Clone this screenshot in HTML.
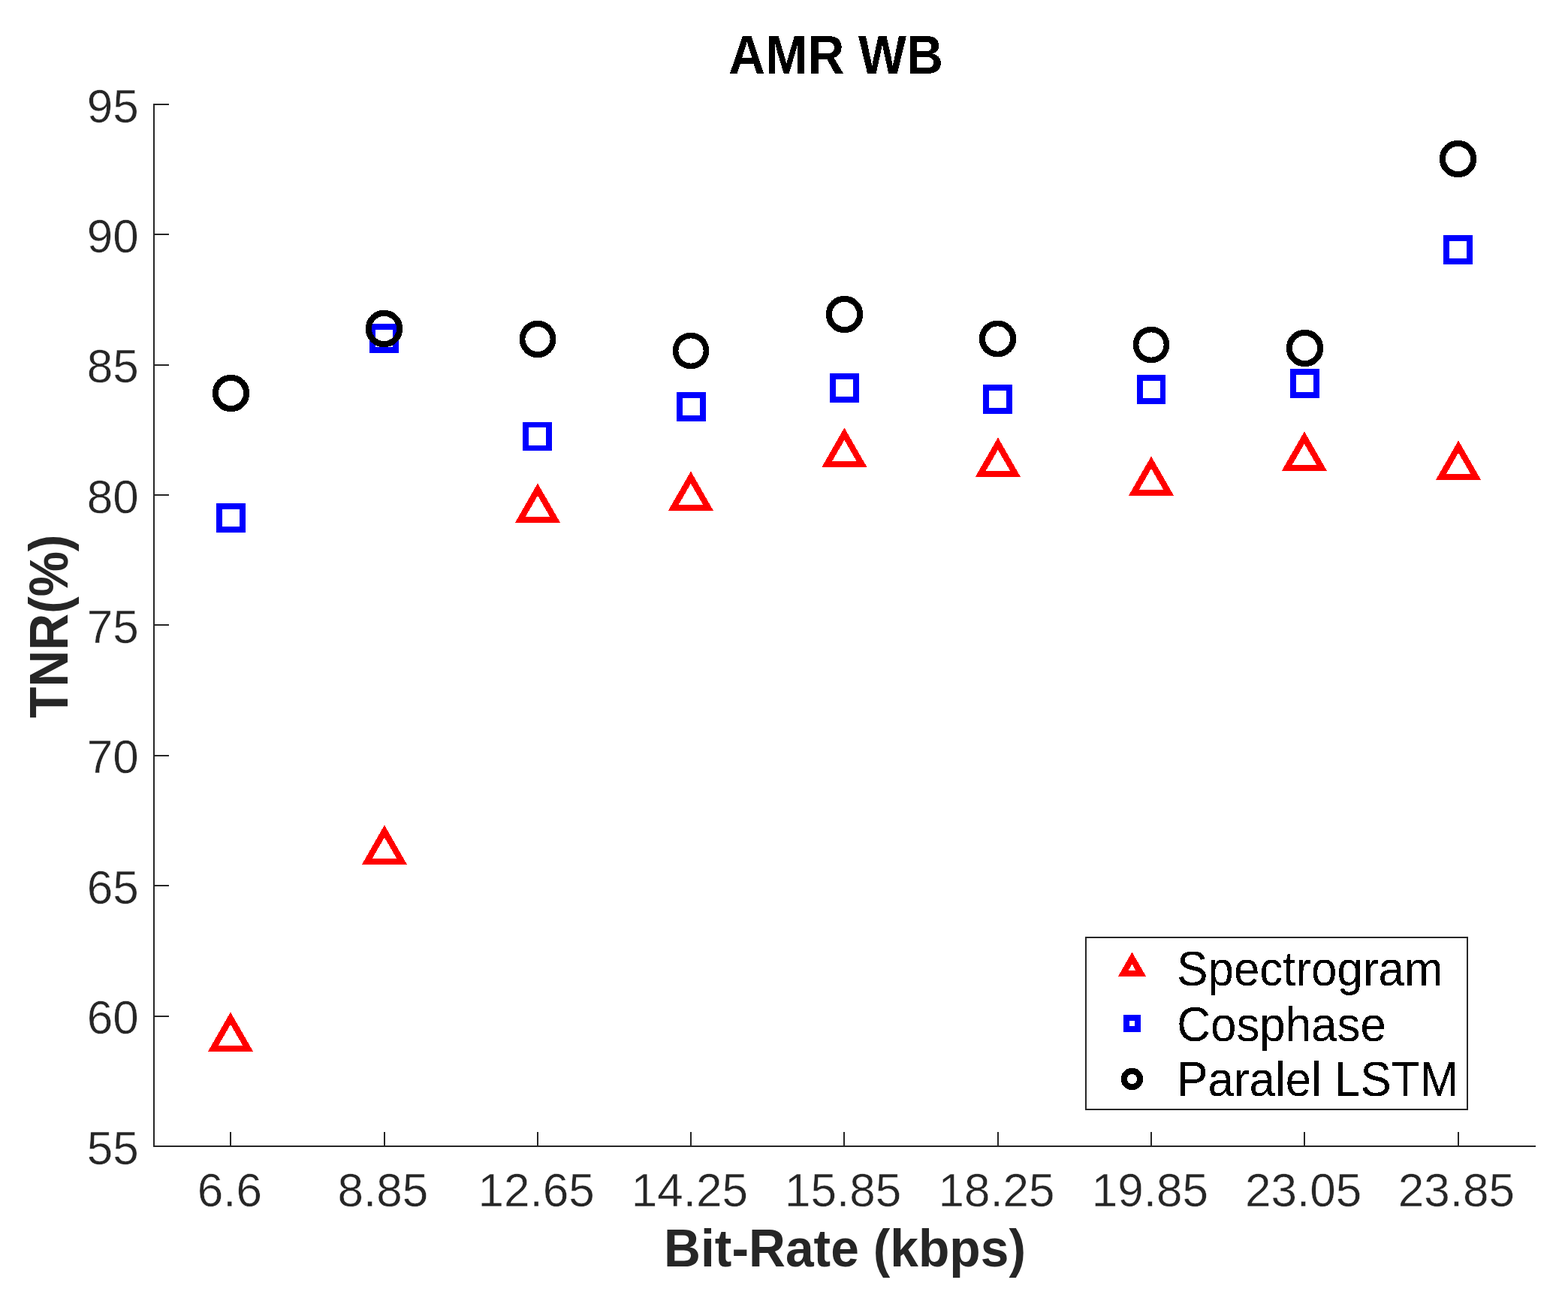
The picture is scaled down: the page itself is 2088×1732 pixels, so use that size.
<!DOCTYPE html>
<html lang="en">
<head>
<meta charset="utf-8">
<title>AMR WB</title>
<style>
html,body{margin:0;padding:0;background:#fff;}
body{width:2088px;height:1732px;}
svg{display:block;}
text{font-family:"Liberation Sans",sans-serif;}
.t{font-size:62.5px;fill:#262626;stroke:#fff;stroke-width:0.45px;}
.l{font-size:62.5px;fill:#000;}
.b{font-size:68.75px;font-weight:bold;fill:#262626;}
.ax{stroke:#262626;stroke-width:2;fill:none;shape-rendering:crispEdges;}
.f{fill-rule:evenodd;stroke:none;shape-rendering:crispEdges;}
</style>
</head>
<body>
<svg width="2088" height="1732" viewBox="0 0 2088 1732">
<defs><filter id="hard" x="-5%" y="-20%" width="110%" height="140%" color-interpolation-filters="sRGB"><feComponentTransfer><feFuncA type="discrete" tableValues="0 0 0 0 0 1 1 1 1 1"/></feComponentTransfer></filter></defs>
<rect width="2088" height="1732" fill="#fff"/>
<g class="ax">
<path d="M205 138 V1526 H2045"/>
<path d="M307 1526 v-19"/>
<path d="M512 1526 v-19"/>
<path d="M716 1526 v-19"/>
<path d="M920 1526 v-19"/>
<path d="M1124 1526 v-19"/>
<path d="M1329 1526 v-19"/>
<path d="M1533 1526 v-19"/>
<path d="M1737 1526 v-19"/>
<path d="M1942 1526 v-19"/>
<path d="M205 139 h20"/>
<path d="M205 312 h20"/>
<path d="M205 486 h20"/>
<path d="M205 659 h20"/>
<path d="M205 832 h20"/>
<path d="M205 1006 h20"/>
<path d="M205 1179 h20"/>
<path d="M205 1353 h20"/>
<path d="M205 1526 h20"/>
</g>
<text class="t" transform="translate(305.90 1605.7) scale(0.992 1.008)" text-anchor="middle">6.6</text>
<text class="t" transform="translate(509.80 1605.7) scale(0.992 1.008)" text-anchor="middle">8.85</text>
<text class="t" transform="translate(714.10 1605.7) scale(0.992 1.008)" text-anchor="middle">12.65</text>
<text class="t" transform="translate(918.40 1605.7) scale(0.992 1.008)" text-anchor="middle">14.25</text>
<text class="t" transform="translate(1122.70 1605.7) scale(0.992 1.008)" text-anchor="middle">15.85</text>
<text class="t" transform="translate(1327.00 1605.7) scale(0.992 1.008)" text-anchor="middle">18.25</text>
<text class="t" transform="translate(1531.30 1605.7) scale(0.992 1.008)" text-anchor="middle">19.85</text>
<text class="t" transform="translate(1735.60 1605.7) scale(0.992 1.008)" text-anchor="middle">23.05</text>
<text class="t" transform="translate(1939.30 1605.7) scale(0.992 1.008)" text-anchor="middle">23.85</text>
<text class="t" transform="translate(184.8 162.60) scale(0.992 1.008)" text-anchor="end">95</text>
<text class="t" transform="translate(184.8 335.98) scale(0.992 1.008)" text-anchor="end">90</text>
<text class="t" transform="translate(184.8 509.35) scale(0.992 1.008)" text-anchor="end">85</text>
<text class="t" transform="translate(184.8 682.73) scale(0.992 1.008)" text-anchor="end">80</text>
<text class="t" transform="translate(184.8 856.10) scale(0.992 1.008)" text-anchor="end">75</text>
<text class="t" transform="translate(184.8 1029.47) scale(0.992 1.008)" text-anchor="end">70</text>
<text class="t" transform="translate(184.8 1202.85) scale(0.992 1.008)" text-anchor="end">65</text>
<text class="t" transform="translate(184.8 1376.22) scale(0.992 1.008)" text-anchor="end">60</text>
<text class="t" transform="translate(184.8 1549.60) scale(0.992 1.008)" text-anchor="end">55</text>
<text class="b" transform="translate(1125 1686) scale(0.986 1.03)" text-anchor="middle">Bit-Rate (kbps)</text>
<text class="b" transform="translate(90 833.75) rotate(-90) scale(0.9845 1.052)" text-anchor="middle">TNR(%)</text>
<text class="b" transform="translate(1113 98) scale(0.9845 1.052)" text-anchor="middle" style="fill:#000" filter="url(#hard)">AMR WB</text>
<path class="f" fill="#f00" d="M307.00 1347.42 L337.13 1400.00 L276.87 1400.00 Z M307.00 1363.82 L323.27 1392.00 L290.73 1392.00 Z"/>
<path class="f" fill="#f00" d="M511.95 1098.42 L542.08 1151.00 L481.82 1151.00 Z M511.95 1114.82 L528.22 1143.00 L495.68 1143.00 Z"/>
<path class="f" fill="#f00" d="M716.00 643.42 L746.13 696.00 L685.87 696.00 Z M716.00 659.82 L732.27 688.00 L699.73 688.00 Z"/>
<path class="f" fill="#f00" d="M919.90 627.42 L950.03 680.00 L889.77 680.00 Z M919.90 643.82 L936.17 672.00 L903.63 672.00 Z"/>
<path class="f" fill="#f00" d="M1124.40 569.42 L1154.53 622.00 L1094.27 622.00 Z M1124.40 585.82 L1140.67 614.00 L1108.13 614.00 Z"/>
<path class="f" fill="#f00" d="M1328.90 582.42 L1359.03 635.00 L1298.77 635.00 Z M1328.90 598.82 L1345.17 627.00 L1312.63 627.00 Z"/>
<path class="f" fill="#f00" d="M1533.00 607.42 L1563.13 660.00 L1502.87 660.00 Z M1533.00 623.82 L1549.27 652.00 L1516.73 652.00 Z"/>
<path class="f" fill="#f00" d="M1736.90 574.42 L1767.03 627.00 L1706.77 627.00 Z M1736.90 590.82 L1753.17 619.00 L1720.63 619.00 Z"/>
<path class="f" fill="#f00" d="M1942.05 586.42 L1972.18 639.00 L1911.92 639.00 Z M1942.05 602.82 L1958.32 631.00 L1925.78 631.00 Z"/>
<path class="f" fill="#00f" d="M288.20 670.20 H326.80 V708.80 H288.20 Z M295.90 677.90 H319.10 V701.10 H295.90 Z"/>
<path class="f" fill="#00f" d="M492.20 431.20 H530.80 V469.80 H492.20 Z M499.90 438.90 H523.10 V462.10 H499.90 Z"/>
<path class="f" fill="#00f" d="M696.20 561.70 H734.80 V600.30 H696.20 Z M703.90 569.40 H727.10 V592.60 H703.90 Z"/>
<path class="f" fill="#00f" d="M901.20 522.20 H939.80 V560.80 H901.20 Z M908.90 529.90 H932.10 V553.10 H908.90 Z"/>
<path class="f" fill="#00f" d="M1105.20 497.20 H1143.80 V535.80 H1105.20 Z M1112.90 504.90 H1136.10 V528.10 H1112.90 Z"/>
<path class="f" fill="#00f" d="M1309.20 512.20 H1347.80 V550.80 H1309.20 Z M1316.90 519.90 H1340.10 V543.10 H1316.90 Z"/>
<path class="f" fill="#00f" d="M1513.85 499.20 H1552.45 V537.80 H1513.85 Z M1521.55 506.90 H1544.75 V530.10 H1521.55 Z"/>
<path class="f" fill="#00f" d="M1718.20 491.20 H1756.80 V529.80 H1718.20 Z M1725.90 498.90 H1749.10 V522.10 H1725.90 Z"/>
<path class="f" fill="#00f" d="M1922.20 313.20 H1960.80 V351.80 H1922.20 Z M1929.90 320.90 H1953.10 V344.10 H1929.90 Z"/>
<path class="f" fill="#000" d="M282.70 523.50 a24.80 24.80 0 1 0 49.60 0 a24.80 24.80 0 1 0 -49.60 0 Z M290.90 523.50 a16.60 16.60 0 1 0 33.20 0 a16.60 16.60 0 1 0 -33.20 0 Z"/>
<path class="f" fill="#000" d="M486.70 437.50 a24.80 24.80 0 1 0 49.60 0 a24.80 24.80 0 1 0 -49.60 0 Z M494.90 437.50 a16.60 16.60 0 1 0 33.20 0 a16.60 16.60 0 1 0 -33.20 0 Z"/>
<path class="f" fill="#000" d="M691.60 451.50 a24.40 24.80 0 1 0 48.80 0 a24.40 24.80 0 1 0 -48.80 0 Z M699.40 451.50 a16.60 16.60 0 1 0 33.20 0 a16.60 16.60 0 1 0 -33.20 0 Z"/>
<path class="f" fill="#000" d="M895.60 467.00 a24.40 24.40 0 1 0 48.80 0 a24.40 24.40 0 1 0 -48.80 0 Z M903.40 467.00 a16.60 16.60 0 1 0 33.20 0 a16.60 16.60 0 1 0 -33.20 0 Z"/>
<path class="f" fill="#000" d="M1099.70 418.50 a24.80 24.80 0 1 0 49.60 0 a24.80 24.80 0 1 0 -49.60 0 Z M1107.90 418.50 a16.60 16.60 0 1 0 33.20 0 a16.60 16.60 0 1 0 -33.20 0 Z"/>
<path class="f" fill="#000" d="M1303.70 451.00 a24.80 24.40 0 1 0 49.60 0 a24.80 24.40 0 1 0 -49.60 0 Z M1311.90 451.00 a16.60 16.60 0 1 0 33.20 0 a16.60 16.60 0 1 0 -33.20 0 Z"/>
<path class="f" fill="#000" d="M1508.60 459.00 a24.40 24.40 0 1 0 48.80 0 a24.40 24.40 0 1 0 -48.80 0 Z M1516.40 459.00 a16.60 16.60 0 1 0 33.20 0 a16.60 16.60 0 1 0 -33.20 0 Z"/>
<path class="f" fill="#000" d="M1712.70 463.50 a24.80 24.80 0 1 0 49.60 0 a24.80 24.80 0 1 0 -49.60 0 Z M1720.90 463.50 a16.60 16.60 0 1 0 33.20 0 a16.60 16.60 0 1 0 -33.20 0 Z"/>
<path class="f" fill="#000" d="M1916.70 211.50 a24.80 24.80 0 1 0 49.60 0 a24.80 24.80 0 1 0 -49.60 0 Z M1924.90 211.50 a16.60 16.60 0 1 0 33.20 0 a16.60 16.60 0 1 0 -33.20 0 Z"/>
<rect x="1446" y="1248" width="508" height="229" fill="#fff" stroke="#262626" stroke-width="2" shape-rendering="crispEdges"/>
<path class="f" fill="#f00" d="M1507.50 1267.56 L1526.23 1300.00 L1488.77 1300.00 Z M1507.50 1283.56 L1512.37 1292.00 L1502.63 1292.00 Z"/>
<path class="f" fill="#00f" d="M1496.00 1351.00 H1519.00 V1374.00 H1496.00 Z M1503.90 1358.90 H1511.10 V1366.10 H1503.90 Z"/>
<path class="f" fill="#000" d="M1492.70 1436.50 a14.80 14.80 0 1 0 29.60 0 a14.80 14.80 0 1 0 -29.60 0 Z M1500.80 1436.50 a6.70 6.70 0 1 0 13.40 0 a6.70 6.70 0 1 0 -13.40 0 Z"/>
<text class="l" transform="translate(1567.3 1312) scale(0.99 1.03)" filter="url(#hard)">Spectrogram</text>
<text class="l" transform="translate(1567.3 1386) scale(0.99 1.03)" filter="url(#hard)">Cosphase</text>
<text class="l" transform="translate(1567.3 1459.2) scale(0.99 1.03)" filter="url(#hard)">Paralel LSTM</text>
</svg>
</body>
</html>
